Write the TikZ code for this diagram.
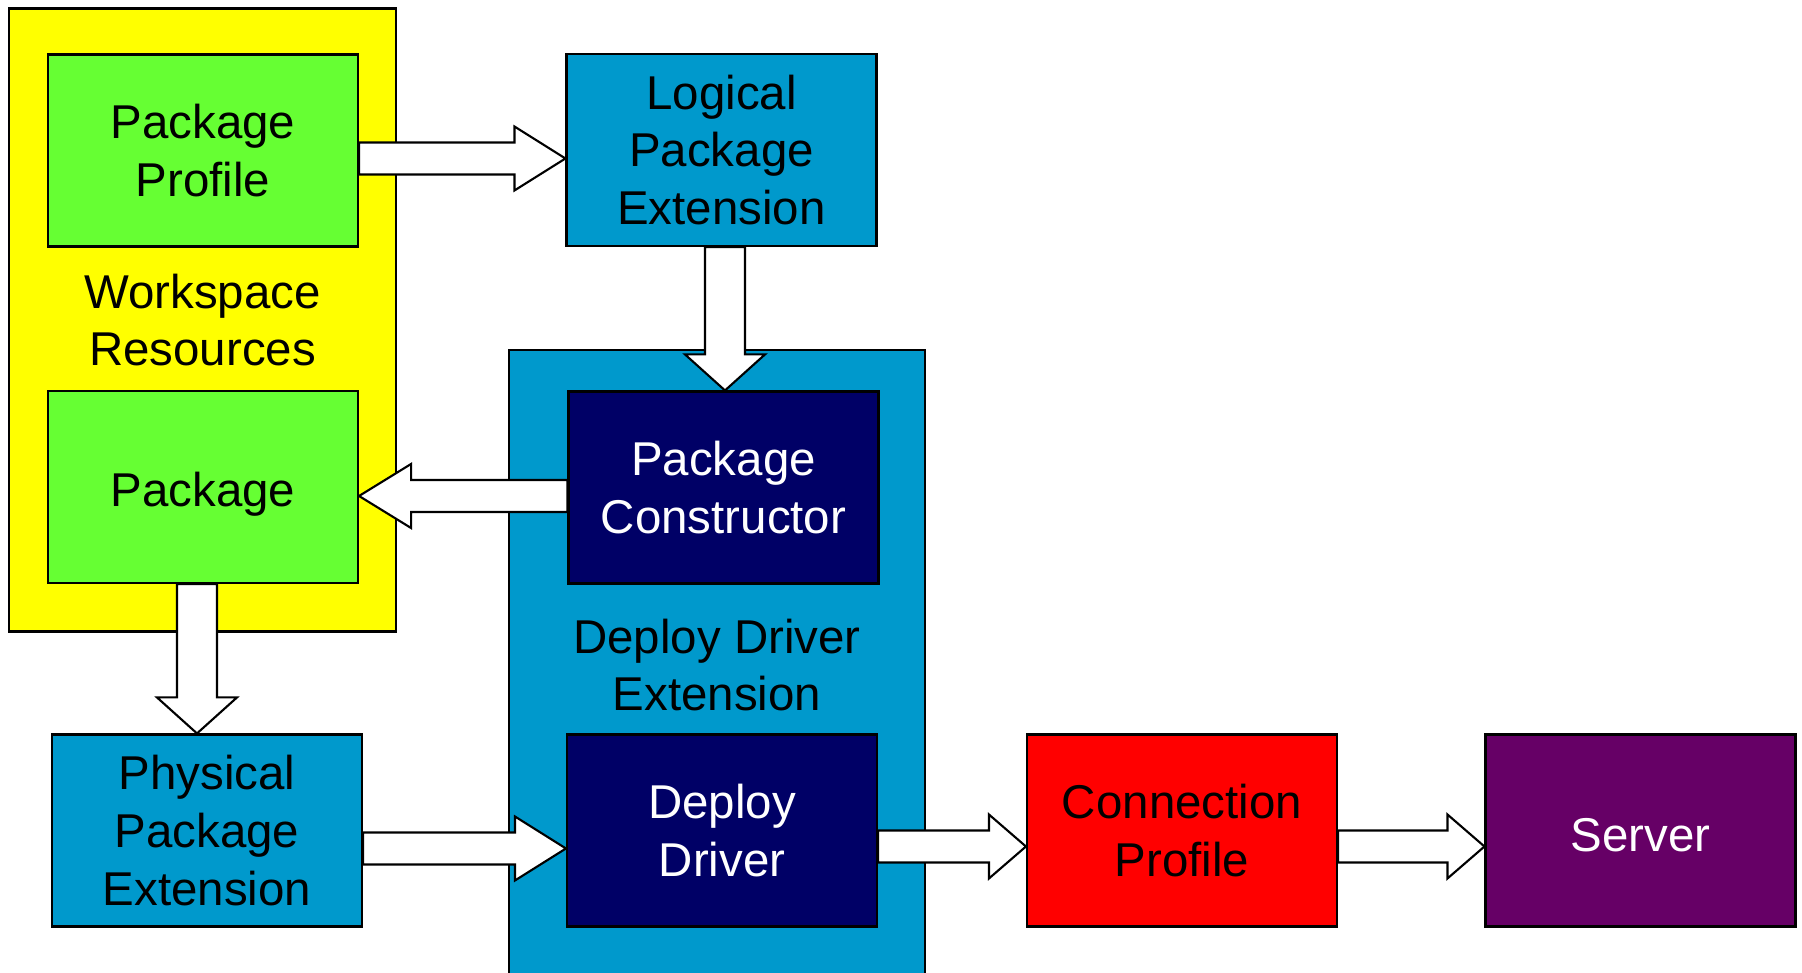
\documentclass[tikz,border=0pt]{standalone}
\usepackage{fontspec}
\setmainfont{Liberation Sans}
\usetikzlibrary{calc}

\definecolor{wsyellow}{HTML}{FFFF00}
\definecolor{pkggreen}{HTML}{66FF33}
\definecolor{extblue}{HTML}{0099CC}
\definecolor{drvnavy}{HTML}{000066}
\definecolor{cpred}{HTML}{FF0000}
\definecolor{srvpurple}{HTML}{660066}

\newcommand{\harrow}[3]{
    \draw[blockarrow] let \p1=(#1), \p2=(#2) in
        (\x1,{\y1+1.6mm}) -- ({\x2-(#3)},{\y1+1.6mm}) -- ({\x2-(#3)},{\y1+3.2mm}) -- (\x2,\y1)
        -- ({\x2-(#3)},{\y1-3.2mm}) -- ({\x2-(#3)},{\y1-1.6mm}) -- (\x1,{\y1-1.6mm}) -- cycle;
}
\newcommand{\varrow}[3]{
    \draw[blockarrow] let \p1=(#1), \p2=(#2) in
        ({\x1-2mm},\y1) -- ({\x1-2mm},{\y2+(#3)}) -- ({\x1-4mm},{\y2+(#3)}) -- (\x1,\y2)
        -- ({\x1+4mm},{\y2+(#3)}) -- ({\x1+2mm},{\y2+(#3)}) -- ({\x1+2mm},\y1) -- cycle;
}
\tikzset{x=0.1mm, y=-0.1mm,
    every node/.append style={font=\fontsize{13.5}{16.4}\selectfont, align=center},
    box/.style={draw, line width=0.6pt, minimum width=31mm, minimum height=19.2mm, inner sep=0pt},
    blockarrow/.style={draw, fill=white, line width=0.6pt, line join=miter}}

\begin{document}
\begin{tikzpicture}
                \useasboundingbox (0,0) rectangle (1802,973);
                \clip (0,0) rectangle (1802,973);
                \node[box, fill=wsyellow, minimum width=38.7mm, minimum height=62.3mm] (ws) at (202.5,320) {Workspace\\Resources};
                \node[box, fill=pkggreen] (pp) at (203,150.5) {Package\\Profile};
                \node[box, fill=pkggreen, text height=12pt, text depth=0.9pt] (pkg) at (203,487) {Package};
                \node[box, fill=extblue, minimum width=41.6mm, minimum height=63mm] (dde) at (717,665) {Deploy Driver\\Extension};
                \node[box, fill=extblue] (lpe) at (721.5,150) {Logical\\Package\\Extension};
                \node[box, fill=drvnavy, text=white] (pc) at (723.5,487.5) {Package\\Constructor};
                \node[box, fill=drvnavy, text=white] (dd) at (722,830.5) {Deploy\\Driver};
                \node[box, fill=extblue] (ppe) at (207,830.5) {Physical\\Package\\Extension};
                \node[box, fill=cpred] (cp) at (1182,830.5) {Connection\\Profile};
                \node[box, fill=srvpurple, text=white, text height=11.7pt, text depth=0pt] (srv) at (1640.5,830.5) {Server};
                \harrow{$(pp.east)+(0,8)$}{lpe.west}{5.1mm}
                \harrow{$(pc.west)+(0,8.5)$}{pkg.east}{-5.2mm}
                \harrow{$(ppe.east)+(0,18)$}{dd.west}{5.1mm}
                \harrow{$(dd.east)+(0,16)$}{cp.west}{3.7mm}
                \harrow{$(cp.east)+(0,16)$}{srv.west}{3.7mm}
                \varrow{$(pkg.south)+(-6,0)$}{ppe.north}{3.6mm}
                \varrow{$(lpe.south)+(3.5,0)$}{pc.north}{3.6mm}
            \end{tikzpicture}
\end{document}
